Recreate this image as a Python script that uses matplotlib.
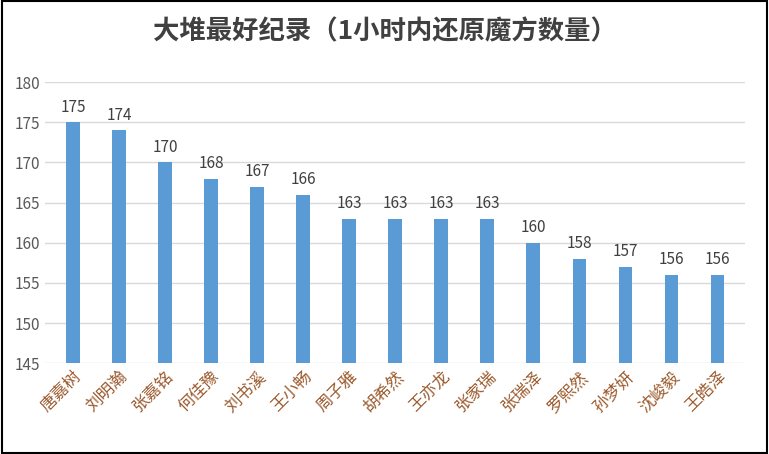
import matplotlib.pyplot as plt
plt.rcParams['font.family'] = ['Noto Sans CJK SC', 'DejaVu Sans']

names = ["唐嘉树","刘明瀚","张嘉铭","何佳豫","刘书溪","王小畅","周子雅","胡希然","王亦龙","张家瑞","张瑞泽","罗熙然","孙梦妍","沈峻毅","王皓泽"]
values = [175,174,170,168,167,166,163,163,163,163,160,158,157,156,156]
yticks = [145,150,155,160,165,170,175,180]

fig = plt.figure(figsize=(7.69,4.54), dpi=100)
ax = fig.add_axes([0.059,0.20,0.91,0.619])
x = range(len(values))
ax.bar(x, [v-145 for v in values], bottom=145, width=0.3, color='#5B9BD5', zorder=2)
for i,v in zip(x,values):
    ax.text(i, v+0.8, str(v), ha='center', va='bottom', fontsize=11, color='#404040')
ax.set_ylim(145,180)
ax.set_xlim(-0.6,14.6)
ax.set_yticks(yticks)
ax.yaxis.grid(True, color='#D9D9D9', lw=1, zorder=0)
ax.tick_params(length=0, labelsize=11, labelcolor='#595959')
ax.set_xticks(list(x))
ax.set_xticklabels(names, rotation=45, ha='right', rotation_mode='anchor', fontsize=12, color='#9C5B2E')
for s in ax.spines.values(): s.set_visible(False)
fig.text(0.5,0.93,"大堆最好纪录（1小时内还原魔方数量）", ha='center', va='center', fontsize=19, fontweight='bold', color='#404040')
fig.patches.append(plt.Rectangle((0.002,0.003),0.996,0.994, transform=fig.transFigure, fill=False, ec='#000000', lw=1.5))
fig.savefig('out.png', dpi=100)
